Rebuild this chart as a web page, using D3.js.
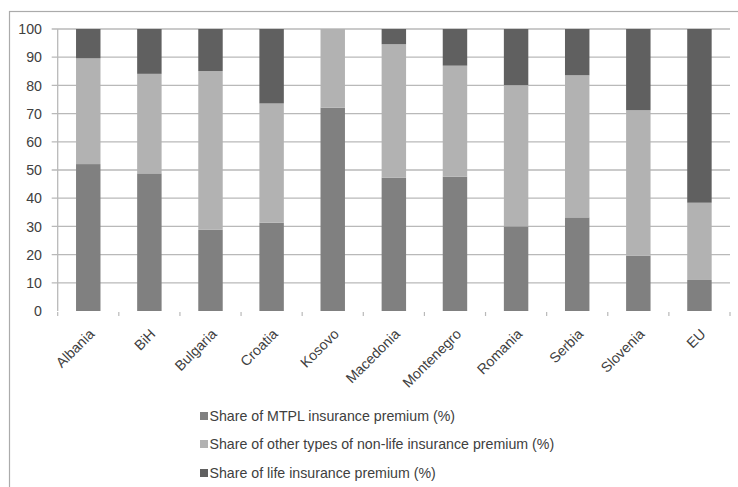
<!DOCTYPE html>
<html>
<head>
<meta charset="utf-8">
<script src="https://cdn.jsdelivr.net/npm/d3@7/dist/d3.min.js"></script>
<style>
  html, body { margin: 0; padding: 0; background: #fff; }
  svg { display: block; font-family: "Liberation Sans", Arial, sans-serif; }
</style>
</head>
<body>
<svg id="chart" width="738" height="487"></svg>
<script>
// Premium structure by market (%)
const categories = ["Albania", "BiH", "Bulgaria", "Croatia", "Kosovo", "Macedonia",
                    "Montenegro", "Romania", "Serbia", "Slovenia", "EU"];
const mtplShare  = [52.1, 48.8, 28.8, 31.3, 72.1, 47.3, 47.6, 30.0, 33.2, 19.6, 11.0];
const otherShare = [37.5, 35.3, 56.3, 42.3, 27.9, 47.3, 39.4, 50.1, 50.4, 51.6, 27.4];
const lifeShare  = [10.4, 15.9, 14.9, 26.4, 0.0, 5.4, 13.0, 19.9, 16.4, 28.8, 61.6];
const seriesNames = [
  "Share of MTPL insurance premium (%)",
  "Share of other types of non-life insurance premium (%)",
  "Share of life insurance premium (%)"
];
const seriesColors = ["#808080", "#b2b2b2", "#606060"];
const yTicks = [0, 10, 20, 30, 40, 50, 60, 70, 80, 90, 100];

const keys = ["mtpl", "other", "life"];
const rows = categories.map((c, i) => ({
  category: c, mtpl: mtplShare[i], other: otherShare[i], life: lifeShare[i]
}));

const svg = d3.select("#chart");
const textColor = "#404040";
const fontSize = 14.2;

// outer frame
svg.append("rect")
  .attr("x", 9.5).attr("y", 11.5)
  .attr("width", 760).attr("height", 500)
  .attr("fill", "none").attr("stroke", "#ababab").attr("stroke-width", 1.2);

const plot = { left: 57.7, right: 730, top: 29, bottom: 311 };

const x = d3.scaleBand()
  .domain(categories)
  .range([plot.left, plot.right])
  .paddingInner(0.6).paddingOuter(0.3);

const y = d3.scaleLinear().domain([0, 100]).range([plot.bottom, plot.top]);

// horizontal gridlines with short tick stubs on the left
svg.append("g").selectAll("line")
  .data(yTicks.filter(t => t > 0))
  .join("line")
  .attr("x1", plot.left - 6).attr("x2", plot.right)
  .attr("y1", d => y(d)).attr("y2", d => y(d))
  .attr("stroke", "#b9b9b9").attr("stroke-width", 1.3);

// y axis line
svg.append("line")
  .attr("x1", plot.left).attr("x2", plot.left)
  .attr("y1", plot.top).attr("y2", plot.bottom)
  .attr("stroke", "#b9b9b9").attr("stroke-width", 1.3);

// y tick labels
svg.append("g").selectAll("text")
  .data(yTicks)
  .join("text")
  .attr("x", 42).attr("y", d => y(d))
  .attr("dy", "0.36em")
  .attr("text-anchor", "end")
  .attr("font-size", fontSize)
  .attr("fill", textColor)
  .text(d => d);

// stacked bars
const stack = d3.stack().keys(keys)(rows);
svg.append("g").selectAll("g")
  .data(stack)
  .join("g")
  .attr("fill", (d, i) => seriesColors[i])
  .selectAll("rect")
  .data(d => d.map(v => ({ v, cat: v.data.category })))
  .join("rect")
  .attr("x", d => x(d.cat))
  .attr("width", x.bandwidth())
  .attr("y", d => y(d.v[1]))
  .attr("height", d => y(d.v[0]) - y(d.v[1]));

// category tick marks between bands
const boundaries = d3.range(categories.length + 1)
  .map(i => plot.left + i * (plot.right - plot.left) / categories.length);
svg.append("g").selectAll("line")
  .data(boundaries)
  .join("line")
  .attr("x1", d => d).attr("x2", d => d)
  .attr("y1", plot.bottom + 1).attr("y2", plot.bottom + 5)
  .attr("stroke", "#b9b9b9").attr("stroke-width", 1.2);

// rotated category labels
svg.append("g").selectAll("text")
  .data(categories)
  .join("text")
  .attr("transform", d => `translate(${x(d) + x.bandwidth() / 2 + 7},${plot.bottom + 24}) rotate(-45)`)
  .attr("text-anchor", "end")
  .attr("font-size", fontSize)
  .attr("fill", textColor)
  .text(d => d);

// legend
const legendY = [416, 444, 473];
const legend = svg.append("g").selectAll("g")
  .data(seriesNames)
  .join("g")
  .attr("transform", (d, i) => `translate(200,${legendY[i]})`);
legend.append("rect")
  .attr("x", 0).attr("y", -4).attr("width", 8).attr("height", 8)
  .attr("fill", (d, i) => seriesColors[i]);
legend.append("text")
  .attr("x", 9.5).attr("dy", "0.36em")
  .attr("font-size", fontSize)
  .attr("fill", textColor)
  .text(d => d);
</script>
</body>
</html>
